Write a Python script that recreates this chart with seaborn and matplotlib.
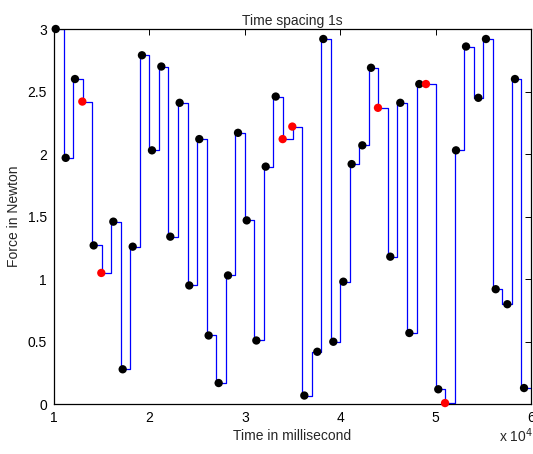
import numpy as np
import pandas as pd
import matplotlib
matplotlib.use("Agg")
import matplotlib.pyplot as plt
import seaborn as sns

# Measured samples (ms, N)
dot_times = [10180, 11226, 12200, 12970, 14160, 14960, 16220, 17200, 18250, 19220,
             20270, 21250, 22190, 23170, 24180, 25230, 26210, 27260, 28240, 29290,
             30200, 31210, 32190, 33240, 33970, 34980, 36240, 37600, 38230, 39280,
             40330, 41200, 42320, 43230, 43960, 45250, 46300, 47250, 48290, 48990,
             50280, 50990, 52140, 53190, 54480, 55280, 56300, 57520, 58320, 59270]
dot_forces = [3.00, 1.97, 2.60, 2.42, 1.27, 1.05, 1.46, 0.28, 1.26, 2.79,
              2.03, 2.70, 1.34, 2.41, 0.95, 2.12, 0.55, 0.17, 1.03, 2.17,
              1.47, 0.51, 1.90, 2.46, 2.12, 2.22, 0.07, 0.42, 2.92, 0.50,
              0.98, 1.92, 2.07, 2.69, 2.37, 1.18, 2.41, 0.57, 2.56, 2.56,
              0.12, 0.01, 2.03, 2.86, 2.45, 2.92, 0.92, 0.80, 2.60, 0.13]
dot_is_red = [0, 0, 0, 1, 0, 1, 0, 0, 0, 0,
              0, 0, 0, 0, 0, 0, 0, 0, 0, 0,
              0, 0, 0, 0, 1, 1, 0, 0, 0, 0,
              0, 0, 0, 0, 1, 0, 0, 0, 0, 1,
              0, 1, 0, 0, 0, 0, 0, 0, 0, 0]

# 1 s resampling grid (ms)
step_times = list(range(10000, 61000, 1000))
step_forces = dot_forces + [dot_forces[-1]]

x_ticks = [10000, 20000, 30000, 40000, 50000, 60000]
x_tick_labels = ["1", "2", "3", "4", "5", "6"]
y_ticks = [0, 0.5, 1, 1.5, 2, 2.5, 3]
y_tick_labels = ["0", "0.5", "1", "1.5", "2", "2.5", "3"]

sns.set_style("white")
plt.rcParams['font.family'] = ['Liberation Sans', 'DejaVu Sans']

fig = plt.figure(figsize=(5.33, 4.54), dpi=100)
ax = fig.add_axes([54/533, 1 - 404.3/454, (531 - 54)/533, (404.3 - 29)/454])

step_df = pd.DataFrame({"t": step_times, "f": step_forces})
sns.lineplot(data=step_df, x="t", y="f", ax=ax, drawstyle="steps-post",
             color="#0000ff", linewidth=0.9, estimator=None, sort=False, zorder=2)

dots_df = pd.DataFrame({"t": dot_times, "f": dot_forces,
                        "kind": ["red" if r else "black" for r in dot_is_red]})
sns.scatterplot(data=dots_df, x="t", y="f", hue="kind", ax=ax,
                palette={"black": "#000000", "red": "#ff0000"},
                s=36, linewidth=0, legend=False, zorder=3, clip_on=False)

ax.set_xlim(10000, 60000)
ax.set_ylim(0, 3)
ax.set_xticks(x_ticks)
ax.set_xticklabels(x_tick_labels)
ax.set_yticks(y_ticks)
ax.set_yticklabels(y_tick_labels)
ax.tick_params(direction="in", length=4, width=0.7, top=True, right=True,
               labelsize=10, colors="black", pad=5)
for sp in ax.spines.values():
    sp.set_visible(True)
    sp.set_color("black")
    sp.set_linewidth(0.9)

ax.set_xlabel("Time in millisecond", fontsize=10, labelpad=3)
ax.set_ylabel("Force in Newton", fontsize=10, labelpad=5)
ax.set_title("Time spacing 1s", fontsize=10, pad=3)
ax.text(1.004, -0.06, "x 10$^4$", transform=ax.transAxes, ha="right", va="top",
        fontsize=10)

fig.savefig("out.png", dpi=100, facecolor="white")
